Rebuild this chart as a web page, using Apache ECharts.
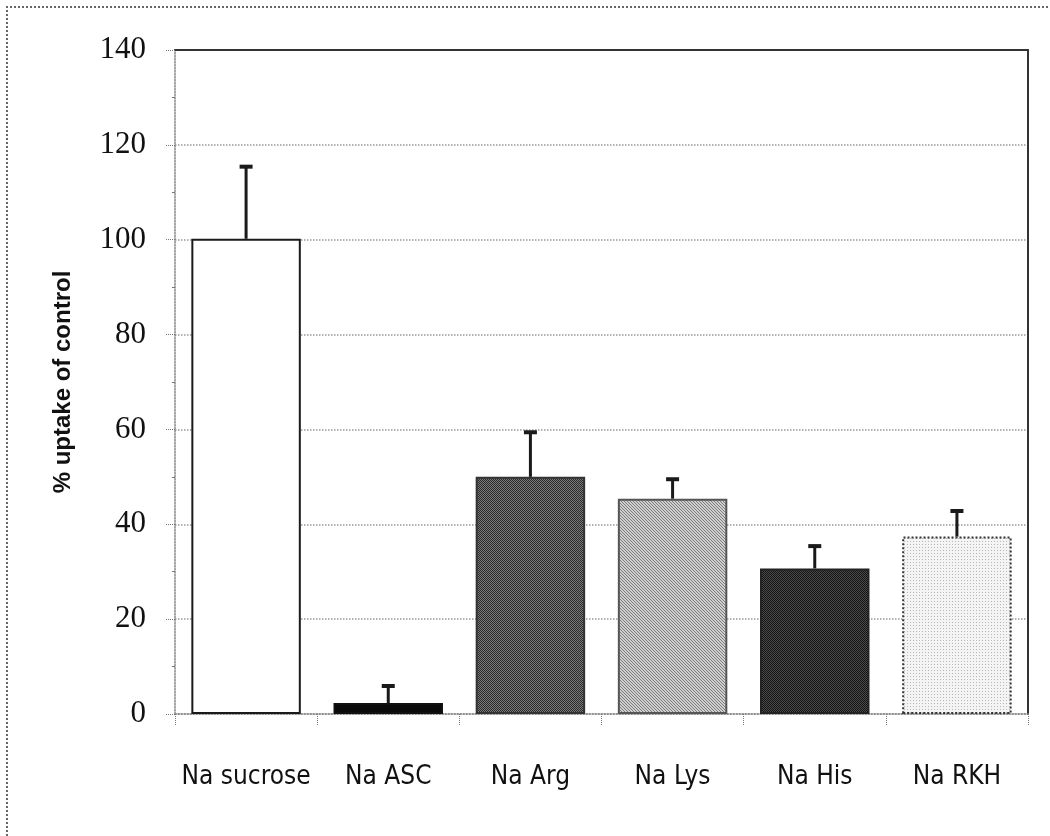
<!DOCTYPE html>
<html>
<head>
<meta charset="utf-8">
<script src="https://cdn.jsdelivr.net/npm/echarts@6/dist/echarts.min.js"></script>
<style>
  html, body { margin: 0; padding: 0; background: #fff; }
  #frame { position: absolute; left: 6px; top: 6px; width: 1100px; height: 900px;
           border-left: 2px dotted #666; border-top: 2px dotted #666; }
  #chart { position: absolute; left: 0; top: 0; width: 1050px; height: 836px; }
</style>
</head>
<body>
<div id="frame"></div>
<div id="chart"></div>
<script>
// ---- data ----
const categories = ['Na sucrose', 'Na ASC', 'Na Arg', 'Na Lys', 'Na His', 'Na RKH'];
const meanValues = [100.2, 2.3, 50.0, 45.4, 30.7, 37.4];
const errorValues = [15.2, 3.6, 9.4, 4.1, 4.7, 5.4];
const yTicks = [0, 20, 40, 60, 80, 100, 120, 140];

// ---- fill patterns (scanned greyscale textures) ----
function pattern(size, bg, fg, cells) {
  const c = document.createElement('canvas');
  c.width = size; c.height = size;
  const g = c.getContext('2d');
  g.fillStyle = bg; g.fillRect(0, 0, size, size);
  g.fillStyle = fg;
  cells.forEach(p => g.fillRect(p[0], p[1], 1, 1));
  return { image: c, repeat: 'repeat' };
}
const fills = [
  '#ffffff',
  '#0a0a0a',
  pattern(2, '#2a2a2a', '#7a7a7a', [[1, 0], [0, 1]]),
  pattern(3, '#cfcfcf', '#7c7c7c', [[0, 0], [1, 1], [2, 2]]),
  pattern(2, '#141414', '#4a4a4a', [[1, 0], [0, 1]]),
  pattern(3, '#f4f4f4', '#b8b8b8', [[1, 1]])
];
const borders = ['#1a1a1a', '#111', '#333', '#555', '#222', '#333'];
const borderTypes = ['solid', 'solid', 'solid', 'solid', 'solid', 'dotted'];

const chart = echarts.init(document.getElementById('chart'), null, { renderer: 'canvas' });

const barData = meanValues.map((v, i) => ({
  value: v,
  itemStyle: { color: fills[i], borderColor: borders[i], borderWidth: 2, borderType: borderTypes[i] }
}));
const errData = meanValues.map((v, i) => [i, v, v + errorValues[i]]);

chart.setOption({
  animation: false,
  backgroundColor: 'transparent',
  grid: { left: 175, right: 22, top: 50, bottom: 122, containLabel: false },
  xAxis: [{
    type: 'category',
    data: categories,
    axisLine: { lineStyle: { color: '#888', type: 'dotted', width: 1.5 } },
    axisTick: { show: true, interval: 0, length: 12, alignWithLabel: false, lineStyle: { color: '#777', type: 'dotted' } },
    axisLabel: { interval: 0, margin: 50, color: '#111', fontSize: 26,
      fontFamily: "'Liberation Sans Narrow', 'DejaVu Sans Condensed', 'Liberation Sans', sans-serif" }
  }, {
    type: 'category',
    data: categories,
    position: 'top',
    axisLine: { onZero: false, lineStyle: { color: '#333', width: 2 } },
    axisTick: { show: false }, axisLabel: { show: false }
  }],
  yAxis: [{
    type: 'value',
    min: 0, max: 140, interval: 20,
    name: '% uptake of control',
    nameLocation: 'middle',
    nameGap: 100,
    nameTextStyle: { fontSize: 24, fontWeight: 'bold', color: '#111',
      fontFamily: "'Liberation Sans', Arial, sans-serif" },
    axisLine: { show: true, lineStyle: { color: '#888', type: 'dotted', width: 1.5 } },
    axisTick: { show: true, length: 10, lineStyle: { color: '#777', type: 'dotted' } },
    minorTick: { show: true, splitNumber: 2, length: 3, lineStyle: { color: '#777' } },
    axisLabel: { margin: 29, color: '#111', fontSize: 31,
      fontFamily: "'Liberation Serif', 'DejaVu Serif', serif",
      formatter: v => String(v) },
    splitLine: { show: true, lineStyle: { color: '#999', type: 'dotted', width: 1.5 } }
  }, {
    type: 'value',
    min: 0, max: 140, interval: 20,
    position: 'right',
    axisLine: { show: true, onZero: false, lineStyle: { color: '#333', width: 2 } },
    axisTick: { show: false }, axisLabel: { show: false }, splitLine: { show: false }
  }],
  series: [{
    type: 'bar',
    data: barData,
    barWidth: '77%',
    z: 2
  }, {
    type: 'custom',
    data: errData,
    z: 3,
    renderItem: function (params, api) {
      const x = api.value(0);
      const lo = api.coord([x, api.value(1)]);
      const hi = api.coord([x, api.value(2)]);
      const half = 6.5;
      return {
        type: 'group',
        children: [
          { type: 'line', shape: { x1: lo[0], y1: lo[1], x2: hi[0], y2: hi[1] },
            style: { stroke: '#1a1a1a', lineWidth: 3 } },
          { type: 'line', shape: { x1: hi[0] - half, y1: hi[1], x2: hi[0] + half, y2: hi[1] },
            style: { stroke: '#1a1a1a', lineWidth: 4 } }
        ]
      };
    }
  }]
});
</script>
</body>
</html>
